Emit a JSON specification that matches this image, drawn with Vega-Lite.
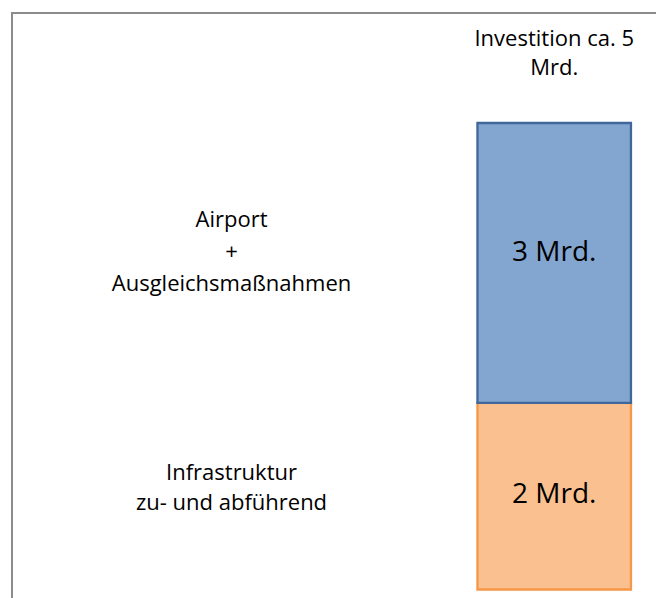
{
  "$schema": "https://vega.github.io/schema/vega-lite/v6.json",
  "width": 656,
  "height": 598,
  "autosize": {"type": "fit", "contains": "padding"},
  "padding": {"left": 12, "top": 13, "right": -4, "bottom": -4},
  "background": "white",
  "config": {
    "view": {"stroke": "#8c8c8c", "strokeWidth": 2},
    "text": {"font": "Open Sans", "color": "#000000"}
  },
  "data": {
    "values": [
      {"teil": "Infrastruktur", "wert": 2, "betrag": "2 Mrd.", "beschriftung": ["Infrastruktur", "zu- und abführend"]},
      {"teil": "Airport", "wert": 3, "betrag": "3 Mrd.", "beschriftung": ["Airport", "+", "Ausgleichsmaßnahmen"]}
    ]
  },
  "layer": [
    {
      "mark": {"type": "bar", "strokeWidth": 2.3},
      "encoding": {
        "x": {
          "datum": "Investition",
          "type": "nominal",
          "scale": {"type": "band", "domain": ["Beschreibung", "Investition"], "paddingInner": 0.5243, "paddingOuter": 0.2662, "align": 0.831, "round": false},
          "axis": null
        },
        "y": {
          "field": "wert",
          "type": "quantitative",
          "stack": "zero",
          "scale": {"domain": [-0.134, 6.179], "nice": false, "zero": false},
          "axis": null
        },
        "order": {"field": "wert", "sort": "ascending"},
        "fill": {"field": "teil", "type": "nominal", "scale": {"domain": ["Airport", "Infrastruktur"], "range": ["#82A6CF", "#FAC090"]}, "legend": null},
        "stroke": {"field": "teil", "type": "nominal", "scale": {"domain": ["Airport", "Infrastruktur"], "range": ["#41679A", "#F79646"]}, "legend": null}
      }
    },
    {
      "transform": [{"filter": "datum.teil === 'Airport'"}],
      "mark": {"type": "text", "fontSize": 28, "align": "center", "baseline": "alphabetic"},
      "encoding": {
        "x": {"datum": "Investition", "type": "nominal", "axis": null},
        "y": {"datum": 3.521, "type": "quantitative", "axis": null},
        "text": {"field": "betrag"}
      }
    },
    {
      "transform": [{"filter": "datum.teil === 'Infrastruktur'"}],
      "mark": {"type": "text", "fontSize": 28, "align": "center", "baseline": "alphabetic"},
      "encoding": {
        "x": {"datum": "Investition", "type": "nominal", "axis": null},
        "y": {"datum": 0.927, "type": "quantitative", "axis": null},
        "text": {"field": "betrag"}
      }
    },
    {
      "transform": [{"filter": "datum.teil === 'Airport'"}],
      "mark": {"type": "text", "fontSize": 22, "align": "center", "baseline": "alphabetic", "lineHeight": 32},
      "encoding": {
        "x": {"datum": "Beschreibung", "type": "nominal", "axis": null},
        "y": {"datum": 3.889, "type": "quantitative", "axis": null},
        "text": {"field": "beschriftung"}
      }
    },
    {
      "transform": [{"filter": "datum.teil === 'Infrastruktur'"}],
      "mark": {"type": "text", "fontSize": 22, "align": "center", "baseline": "alphabetic", "lineHeight": 30},
      "encoding": {
        "x": {"datum": "Beschreibung", "type": "nominal", "axis": null},
        "y": {"datum": 1.174, "type": "quantitative", "axis": null},
        "text": {"field": "beschriftung"}
      }
    },
    {
      "data": {"values": [{"titel": ["Investition ca. 5", "Mrd."]}]},
      "mark": {"type": "text", "fontSize": 22, "align": "center", "baseline": "alphabetic", "lineHeight": 29},
      "encoding": {
        "x": {"datum": "Investition", "type": "nominal", "axis": null},
        "y": {"datum": 5.825, "type": "quantitative", "axis": null},
        "text": {"field": "titel"}
      }
    }
  ]
}
